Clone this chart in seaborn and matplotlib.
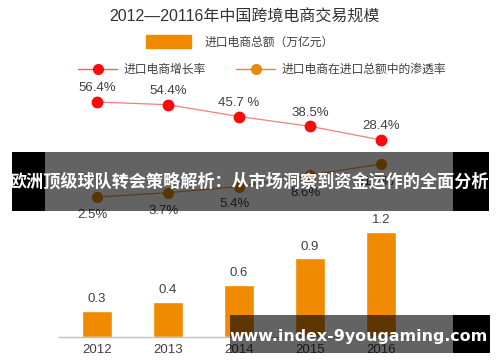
import matplotlib
matplotlib.use("Agg")
import matplotlib.pyplot as plt
from matplotlib.patches import Rectangle, Patch
from matplotlib.lines import Line2D
import seaborn as sns
import pandas as pd

# chart data
years = ["2012", "2013", "2014", "2015", "2016"]
import_total = [0.3, 0.4, 0.6, 0.9, 1.2]          # 万亿元
growth_rate = [56.4, 54.4, 45.7, 38.5, 28.4]      # %
growth_labels = ["56.4%", "54.4%", "45.7 %", "38.5%", "28.4%"]
penetration = [2.5, 3.7, 5.4, 8.6, 11.7]          # %
penetration_labels = ["2.5%", "3.7%", "5.4%", "8.6%", "11.7%"]

title = "2012—20116年中国跨境电商交易规模"
bar_name = "进口电商总额（万亿元）"
growth_name = "进口电商增长率"
pen_name = "进口电商在进口总额中的渗透率"
banner_text = "欧洲顶级球队转会策略解析：从市场洞察到资金运作的全面分析"
watermark = "www.index-9yougaming.com"

sns.set_style("white")
plt.rcParams["font.family"] = ["Liberation Sans", "Noto Sans CJK SC", "DejaVu Sans"]

W, H = 500, 362
BAR_COLOR = "#f08a00"
RED = "#ff0a0a"
ORANGE = "#e8890c"
TXT = "#404040"

fig = plt.figure(figsize=(W / 100, H / 100), dpi=100)
ax_left, ax_bottom, ax_w, ax_h = 59, 25, 360, 330
ax = fig.add_axes([ax_left / W, ax_bottom / H, ax_w / W, ax_h / H])

df = pd.DataFrame({"year": years, "total": import_total})
sns.barplot(data=df, x="year", y="total", color=BAR_COLOR, width=0.41,
            saturation=1, ax=ax)
ax.set_xlim(-0.535, 4.535)
ax.set_ylim(0, ax_h / 87.5)
ax.bar_label(ax.containers[0], labels=[f"{v:.1f}" for v in import_total],
             padding=4, fontsize=9.5, color=TXT)
ax.set_xlabel("")
ax.set_ylabel("")
ax.set_yticks([])
ax.tick_params(axis="x", length=0, pad=5, labelsize=9.5, labelcolor=TXT)
for s in ["top", "right", "left"]:
    ax.spines[s].set_visible(False)
ax.spines["bottom"].set_color("#c0c0c0")
ax.spines["bottom"].set_linewidth(1)


def limits(v1, p1, v2, p2):
    # y-limits so that value v lands at pixel p (from the top of the image)
    y1, y2 = H - p1, H - p2
    s = (y2 - y1) / (v2 - v1)
    lo = v1 - (y1 - ax_bottom) / s
    return lo, lo + ax_h / s


xs = list(range(len(years)))

ax_r = ax.twinx()
ax_r.set_ylim(*limits(56.4, 102, 28.4, 140))
ax_r.plot(xs, growth_rate, color="#f08080", lw=0.9, marker="o", ms=7.5,
          mfc=RED, mec=RED)
for x, v, lab in zip(xs, growth_rate, growth_labels):
    ax_r.annotate(lab, (x, v), xytext=(0, 5.5), textcoords="offset points",
                  ha="center", va="bottom", fontsize=9.5, color=TXT)

ax_o = ax.twinx()
ax_o.set_ylim(*limits(2.5, 197, 11.7, 164))
ax_o.plot(xs, penetration, color="#e8a050", lw=0.9, marker="o", ms=7,
          mfc=ORANGE, mec=ORANGE)
for x, v, lab in zip(xs, penetration, penetration_labels):
    ax_o.annotate(lab, (x, v), xytext=(-3, -8.5), textcoords="offset points",
                  ha="center", va="top", fontsize=9.5, color=TXT)

for a in (ax_r, ax_o):
    a.set_xlim(ax.get_xlim())
    a.set_yticks([])
    a.set_ylabel("")
    for s in a.spines.values():
        s.set_visible(False)

fig.text(244 / W, 1 - 17 / H, title, ha="center", va="center",
         fontsize=11.5, color="#333333")

leg1 = fig.legend(handles=[Patch(color=BAR_COLOR, label=bar_name)],
                  loc="center", bbox_to_anchor=(240 / W, 1 - 42 / H),
                  frameon=False, fontsize=8.5, handlelength=3.8,
                  handleheight=1.2, handletextpad=1.2, labelcolor=TXT)
leg2 = fig.legend(handles=[
    Line2D([], [], color="#f06060", lw=1, marker="o", ms=7, mfc=RED, mec=RED,
           label=growth_name),
    Line2D([], [], color=ORANGE, lw=1, marker="o", ms=7, mfc=ORANGE,
           mec=ORANGE, label=pen_name)],
    loc="center", bbox_to_anchor=(262 / W, 1 - 70 / H), ncol=2,
    frameon=False, fontsize=8.5, handlelength=3.3, handletextpad=0.5,
    columnspacing=2.6, labelcolor=TXT)

# overlay banner and watermark
def rect(x0, y0, x1, y1, alpha):
    fig.add_artist(Rectangle((x0 / W, 1 - y1 / H), (x1 - x0) / W,
                             (y1 - y0) / H, transform=fig.transFigure,
                             facecolor="black", edgecolor="none",
                             alpha=alpha, zorder=10))

rect(12, 152, 45, 211, 1)
rect(45, 152, 453, 211, 0.61)
rect(453, 152, 489, 211, 1)
fig.text(250 / W, 1 - 182 / H, banner_text, ha="center", va="center",
         fontsize=12.3, color="white", fontweight="bold",
         family=["Noto Sans CJK SC", "DejaVu Sans"], zorder=11)

rect(230, 315, 453, 353, 0.61)
rect(453, 315, 490, 353, 1)
fig.text(359 / W, 1 - 336 / H, watermark, ha="center", va="center",
         fontsize=11.4, color="white", fontweight="bold",
         family=["DejaVu Sans"], zorder=11)

fig.savefig("out.png", dpi=100)
